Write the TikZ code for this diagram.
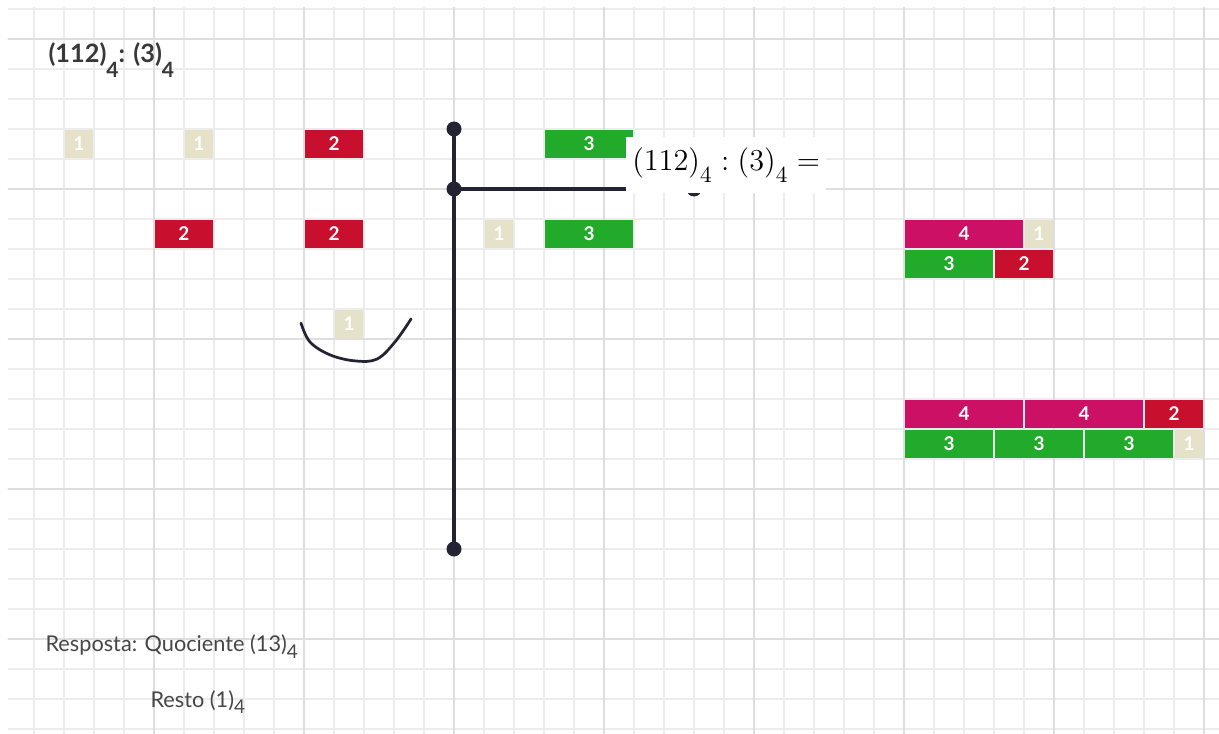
\documentclass[tikz,border=0pt]{standalone}
\usepackage[no-math]{fontspec}
\newfontfamily\uifont{Lato}
\usetikzlibrary{positioning}
\definecolor{tileBeige}  {RGB}{229,226,201}
\definecolor{tileRed}    {RGB}{200, 16, 46}
\definecolor{tileGreen}  {RGB}{ 34,170, 43}
\definecolor{tileMagenta}{RGB}{204, 16,102}
\definecolor{barNavy}    {RGB}{ 35, 35, 52}
\definecolor{gridMinor}  {RGB}{236,236,236}
\definecolor{gridMajor}  {RGB}{222,222,222}
\definecolor{inkGray}    {RGB}{ 70, 70, 70}
\newcommand{\lowsub}[2][-0.6ex]{\raisebox{#1}{\scriptsize #2}}

\begin{document}
\begin{tikzpicture}[x=0.5cm,y=0.5cm,
    tile/.style={inner sep=0pt, minimum height=0.465cm, text=white,
      font=\uifont\bfseries\fontsize{9}{9}\selectfont},
    bar/.style={barNavy, line width=1.5pt},
    joint/.style={circle, fill=barNavy, inner sep=0pt, minimum size=0.25cm},
    answer/.style={anchor=base west, inner sep=0pt, text=inkGray,
      font=\uifont\fontsize{10.3}{12}\selectfont}]
  \useasboundingbox (-0.1333,-0.1333) rectangle (40.5,24.3);
  \fill[white] (-0.1333,-0.1333) rectangle (40.5,24.3);
  % squared paper
  \begin{scope}
    \clip (0.1333,-0.1333) rectangle (40.5,24.05);
    \draw[gridMinor, line width=0.9pt, step=0.5cm] (0,-1) grid (41,25);
    \foreach \gx in {0,5,...,40}
      \draw[gridMajor, line width=1.3pt] (\gx,-1) -- (\gx,25);
    \foreach \gy in {3,8,...,23}
      \draw[gridMajor, line width=1.3pt] (0,\gy) -- (41,\gy);
  \end{scope}
  \node[anchor=base west, inner sep=0pt, text=inkGray!80!black,
    font=\uifont\bfseries\fontsize{12}{12}\selectfont] (title) at (1.47,22.2)
    {(112)\lowsub[-1.1ex]{\normalsize 4}: (3)\lowsub[-1.1ex]{\normalsize 4}};
  % tiles: x/y/width/colour/label
  \foreach \x/\y/\w/\c/\t [count=\i] in {
      2/19/1/tileBeige/1, 6/19/1/tileBeige/1, 10/19/2/tileRed/2,
      5/16/2/tileRed/2, 10/16/2/tileRed/2, 11/13/1/tileBeige/1,
      16/16/1/tileBeige/1, 18/19/3/tileGreen/3, 18/16/3/tileGreen/3,
      30/16/4/tileMagenta/4, 34/16/1/tileBeige/1,
      30/15/3/tileGreen/3, 33/15/2/tileRed/2,
      30/10/4/tileMagenta/4, 34/10/4/tileMagenta/4, 38/10/2/tileRed/2,
      30/9/3/tileGreen/3, 33/9/3/tileGreen/3, 36/9/3/tileGreen/3,
      39/9/1/tileBeige/1}
    \node[tile, fill=\c, minimum width={\w*0.5cm-0.035cm}] (t\i)
      at (\x+\w/2,\y+0.5) {\t};
  % hand drawn bracket under the remainder
  \draw[barNavy, line width=1.3pt, line cap=round] plot[smooth, tension=0.6]
    coordinates {(9.9,13.53) (10.2,12.9) (10.87,12.47) (11.7,12.27)
      (12.43,12.33) (13.03,12.9) (13.57,13.67)};
  % division bracket
  \node[joint] (top) at (15,20) {};
  \node[joint] (mid) at (15,18) {};
  \node[joint] (bot) at (15,6) {};
  \node[joint] (end) at (23,18) {};
  \draw[bar] (top.center) -- (bot.center);
  \draw[bar] (mid.center) -- (end.center);
  \node[fill=white, inner sep=0pt, minimum width=3.33cm, minimum height=0.93cm,
    font=\fontsize{15}{15}\selectfont] (eq) at (24.07,18.8)
    {$(112)_{\raisebox{-3.5pt}{$\scriptstyle 4$}}:(3)_{\raisebox{-3.5pt}{$\scriptstyle 4$}}=$};
  \node[answer] (resp) at (1.37,2.57) {Resposta: Quociente (13)\lowsub{\small 4}};
  \node[answer] (rest) at (4.87,0.73) {Resto (1)\lowsub{\small 4}};
\end{tikzpicture}
\end{document}
